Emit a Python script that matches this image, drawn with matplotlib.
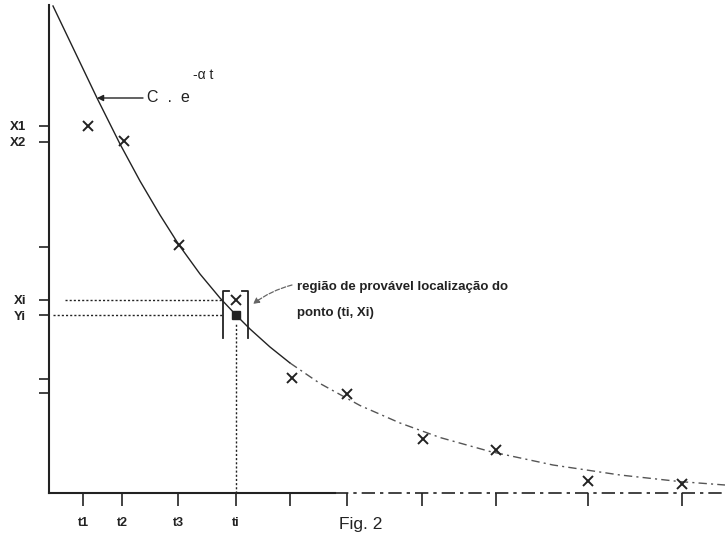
import matplotlib
matplotlib.use("Agg")
import matplotlib.pyplot as plt

plt.rcParams['font.family'] = ['Liberation Sans', 'DejaVu Sans']

INK = "#222222"

# curve C.e^(-alpha t)
curve_t = [0.4, 2.6, 4.8, 7.1, 9.1, 11.1, 13.0, 15.1, 17.1, 18.7, 20.1, 22.1,
           24.1, 27.1, 31.1, 35.1, 39.1, 44.1, 50.4, 57.1, 63.1, 67.6]
curve_y = [48.7, 44.1, 39.5, 34.9, 31.2, 27.8, 24.8, 21.9, 19.5, 17.8, 16.4, 14.6,
           13.0, 10.95, 8.75, 7.0, 5.55, 4.15, 2.8, 1.8, 1.14, 0.8]
FADE_T = 24.1  # after this the scanned line is broken up

# measured points (x marks)
obs_t = [3.9, 7.5, 13.0, 18.7, 24.3, 29.8, 37.4, 44.7, 53.9, 63.3]
obs_x = [36.7, 35.2, 24.8, 19.3, 11.5, 9.9, 5.4, 4.3, 1.2, 0.9]

# the point (ti, Yi) on the curve
ti, Xi, Yi = 18.7, 19.3, 17.8

x_ticks = [3.4, 7.3, 12.9, 18.7, 24.1, 29.8, 37.3, 44.7, 53.9, 63.3]
x_labels = ["t1", "t2", "t3", "ti", "", "", "", "", "", ""]
y_ticks = [36.7, 35.1, 24.6, 19.3, 17.8, 11.4, 10.0]
y_labels = ["X1", "X2", "", "Xi", "Yi", "", ""]

fig = plt.figure(figsize=(7.25, 5.39), dpi=100)
ax = fig.add_axes([49 / 725, 46 / 539, 676 / 725, 493 / 539])
ax.set_xlim(0, 67.6)
ax.set_ylim(0, 49.3)

for s in ["top", "right", "bottom"]:
    ax.spines[s].set_visible(False)
ax.spines["left"].set_bounds(0, 48.8)
ax.spines["left"].set_linewidth(1.5)
ax.spines["left"].set_color(INK)

# x axis: solid near origin, broken further right (as in the scan)
ax.plot([0, 28.6], [0, 0], color=INK, lw=1.5, clip_on=False)
ax.plot([28.6, 67.6], [0, 0], color=INK, lw=1.2, ls=(0, (8, 3, 2, 3)), clip_on=False)

ax.set_xticks(x_ticks)
ax.set_xticklabels(x_labels, fontsize=9, fontweight="bold")
ax.set_yticks(y_ticks)
ax.set_yticklabels(y_labels, fontsize=9.5, fontweight="bold")
ax.tick_params(axis="x", direction="out", length=9, width=1.2, pad=8, colors=INK)
ax.tick_params(axis="y", direction="out", length=7.5, width=1.2, pad=9, colors=INK)

# curve
solid = [i for i, t in enumerate(curve_t) if t <= FADE_T]
faded = [i for i, t in enumerate(curve_t) if t >= FADE_T]
ax.plot([curve_t[i] for i in solid], [curve_y[i] for i in solid], color=INK, lw=1.0)
ax.plot([curve_t[i] for i in faded], [curve_y[i] for i in faded], color="#555555",
        lw=1.0, ls=(0, (6, 3, 1.5, 3)))

ax.plot(obs_t, obs_x, ls="none", marker="x", ms=7, mew=1.4, color=INK)
ax.plot([ti], [Yi], ls="none", marker="s", ms=6, color=INK)

# dotted guides to the axes
ax.plot([1.6, 17.3], [Xi, Xi], color=INK, lw=1.0, ls=(0, (1.5, 1.5)))
ax.plot([0.4, 17.3], [Yi, Yi], color=INK, lw=1.0, ls=(0, (1.5, 1.5)))
ax.plot([ti, ti], [0, 17.0], color=INK, lw=1.0, ls=(0, (1.5, 1.5)))

# bracket box around (ti, Xi)
bl, br, bb, bt = 17.4, 19.9, 15.5, 20.2
ax.plot([bl + 0.6, bl, bl], [bt, bt, bb], color=INK, lw=1.3)
ax.plot([br - 0.6, br, br], [bt, bt, bb], color=INK, lw=1.3)

# labels
ax.annotate("", xy=(4.8, 39.5), xytext=(9.4, 39.5),
            arrowprops=dict(arrowstyle="-|>", color=INK, lw=1.0,
                            mutation_scale=9, shrinkA=0, shrinkB=0))
ax.text(9.8, 39.5, "C  .  e", fontsize=11.5, va="center", color=INK)
ax.text(14.4, 41.8, "-\u03b1 t", fontsize=10, va="center", color=INK)

ax.annotate("", xy=(20.4, 18.9), xytext=(24.3, 20.8),
            arrowprops=dict(arrowstyle="-|>", color="#666666", lw=0.9, ls="--",
                            mutation_scale=9, shrinkA=0, shrinkB=0,
                            connectionstyle="arc3,rad=0.1"))
ax.text(24.8, 20.6, "região de provável localização do", fontsize=9.5,
        fontweight="bold", va="center", color=INK)
ax.text(24.8, 18.0, "ponto (ti, Xi)", fontsize=9.5, fontweight="bold",
        va="center", color=INK)

ax.text(31.2, -3.1, "Fig. 2", fontsize=12.5, ha="center", va="center",
        color=INK, clip_on=False)

fig.savefig("out.png", dpi=100)
